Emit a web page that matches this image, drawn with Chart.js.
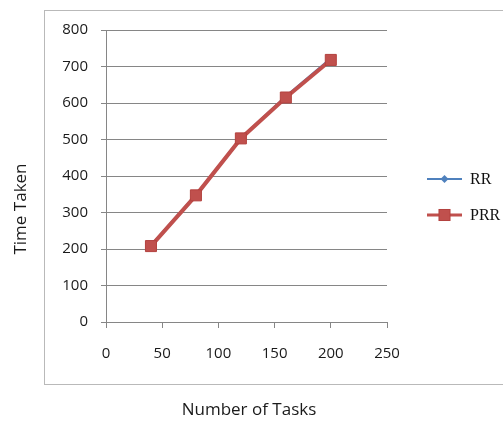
<!DOCTYPE html>
<html>
<head>
<meta charset="utf-8">
<script src="https://cdn.jsdelivr.net/npm/chart.js@4"></script>
<style>
  html, body { margin: 0; padding: 0; background: #ffffff; }
  #wrap { width: 503px; height: 422px; }
</style>
</head>
<body>
<div id="wrap"><canvas id="c" width="503" height="422"></canvas></div>
<script>
// Number of tasks on the x axis
const tasks = [40, 80, 120, 160, 200];
// Time taken by each scheduling algorithm
const rrTimes  = [208, 347, 503, 617, 721];
const prrTimes = [208, 347, 503, 615, 718];
const seriesNames = ['RR', 'PRR'];
const xTicks = [0, 50, 100, 150, 200, 250];
const yTicks = [0, 100, 200, 300, 400, 500, 600, 700, 800];

const toPoints = (vals) => tasks.map((t, i) => ({ x: t, y: vals[i] }));

const BLUE = '#4F81BD';
const RED = '#C0504D';
const GRID = '#868686';
const SANS = '"Open Sans", "Noto Sans", sans-serif';

// Frame, axis titles and the line+marker legend
const decorations = {
  id: 'decorations',
  beforeDraw(chart) {
    const ctx = chart.ctx;
    ctx.save();
    ctx.fillStyle = '#ffffff';
    ctx.fillRect(0, 0, chart.width, chart.height);
    ctx.strokeStyle = '#b9b9b9';
    ctx.lineWidth = 1;
    ctx.strokeRect(44.5, 10.5, 480, 374);
    ctx.restore();
  },
  afterDraw(chart) {
    const ctx = chart.ctx;
    ctx.save();
    ctx.fillStyle = '#1a1a1a';
    ctx.font = '17px ' + SANS;
    ctx.textAlign = 'center';
    ctx.textBaseline = 'middle';
    ctx.fillText('Number of Tasks', 249, 410);
    ctx.translate(21, 209);
    ctx.rotate(-Math.PI / 2);
    ctx.fillText('Time Taken', 0, 0);
    ctx.restore();

    const rows = [179, 215];
    chart.data.datasets.forEach((ds, i) => {
      const y = rows[i];
      ctx.save();
      ctx.strokeStyle = ds.borderColor;
      ctx.lineWidth = i === 0 ? 2 : 3;
      ctx.beginPath();
      ctx.moveTo(427, y);
      ctx.lineTo(462, y);
      ctx.stroke();
      ctx.fillStyle = ds.pointBackgroundColor;
      ctx.strokeStyle = ds.pointBorderColor;
      ctx.lineWidth = 1;
      const cx = 444.5;
      if (ds.pointStyle === 'rect') {
        const s = ds.pointRadius * Math.SQRT1_2;
        ctx.fillRect(cx - s, y - s, 2 * s, 2 * s);
        ctx.strokeRect(cx - s, y - s, 2 * s, 2 * s);
      } else {
        const r = ds.pointRadius;
        ctx.beginPath();
        ctx.moveTo(cx, y - r); ctx.lineTo(cx + r, y);
        ctx.lineTo(cx, y + r); ctx.lineTo(cx - r, y);
        ctx.closePath();
        ctx.fill();
      }
      ctx.fillStyle = '#111';
      ctx.font = '16px "Liberation Serif", "DejaVu Serif", serif';
      ctx.textAlign = 'left';
      ctx.textBaseline = 'middle';
      ctx.fillText(ds.label, 470, y + 1);
      ctx.restore();
    });
  }
};

new Chart(document.getElementById('c'), {
  type: 'line',
  data: {
    datasets: [
      {
        label: seriesNames[0],
        data: toPoints(rrTimes),
        borderColor: BLUE,
        backgroundColor: BLUE,
        borderWidth: 3,
        pointStyle: 'rectRot',
        pointRadius: 4,
        pointBackgroundColor: BLUE,
        pointBorderColor: BLUE,
        pointBorderWidth: 1,
        tension: 0,
        order: 2
      },
      {
        label: seriesNames[1],
        data: toPoints(prrTimes),
        borderColor: RED,
        backgroundColor: RED,
        borderWidth: 4,
        pointStyle: 'rect',
        pointRadius: 7.8,
        pointBackgroundColor: RED,
        pointBorderColor: '#b3413e',
        pointBorderWidth: 1,
        tension: 0,
        order: 1
      }
    ]
  },
  options: {
    responsive: false,
    animation: false,
    devicePixelRatio: 1,
    layout: { padding: { left: 0, right: 116, top: 30, bottom: 0 } },
    plugins: {
      legend: { display: false },
      tooltip: { enabled: false }
    },
    scales: {
      x: {
        type: 'linear',
        min: xTicks[0],
        max: xTicks[xTicks.length - 1],
        afterFit(scale) { scale.height = 100; },
        afterBuildTicks(scale) { scale.ticks = xTicks.map(v => ({ value: v })); },
        grid: {
          drawOnChartArea: false,
          drawTicks: true,
          tickLength: 6,
          color: GRID,
          tickColor: GRID
        },
        border: { display: true, color: GRID, width: 1 },
        ticks: {
          color: '#1a1a1a',
          font: { family: SANS, size: 15 },
          padding: 17,
          maxRotation: 0
        }
      },
      y: {
        type: 'linear',
        min: yTicks[0],
        max: yTicks[yTicks.length - 1],
        afterFit(scale) { scale.width = 106; },
        afterBuildTicks(scale) { scale.ticks = yTicks.map(v => ({ value: v })); },
        grid: {
          drawOnChartArea: true,
          drawTicks: true,
          tickLength: 5,
          color: GRID,
          tickColor: GRID
        },
        border: { display: true, color: GRID, width: 1 },
        ticks: {
          color: '#1a1a1a',
          font: { family: SANS, size: 15 },
          padding: 13
        }
      }
    }
  },
  plugins: [decorations]
});
</script>
</body>
</html>
